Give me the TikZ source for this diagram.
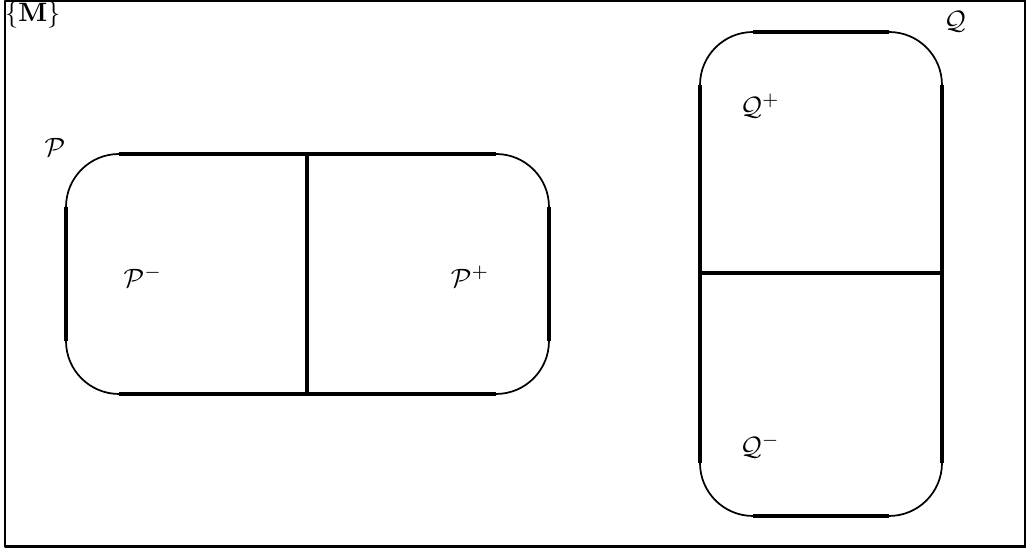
\documentclass[tikz,border=0pt]{standalone}
\usepackage{amsmath,amssymb}
\usepackage{tikz}
\usetikzlibrary{positioning,calc}
\tikzset{
    every picture/.style={line cap=butt,line join=round},
    frameline/.style={draw=black,line width=0.8pt},
    boxside/.style={draw=black,line width=1.2pt},
    boxarc/.style={draw=black,line width=0.65pt},
    setlabel/.style={inner sep=0pt,outer sep=0pt}
}
% straight sides thick, corners thin (corner radius 20pt)
\newcommand{\roundbox}[4]{%
  \draw[boxside] (#1,#2+53) -- (#1,#4-53);
  \draw[boxside] (#3,#2+53) -- (#3,#4-53);
  \draw[boxside] (#1+53,#2) -- (#3-53,#2);
  \draw[boxside] (#1+53,#4) -- (#3-53,#4);
  \draw[boxarc] (#1,#4-53) arc[start angle=180,end angle=90,radius=19.98pt];
  \draw[boxarc] (#3-53,#4) arc[start angle=90,end angle=0,radius=19.98pt];
  \draw[boxarc] (#3,#2+53) arc[start angle=0,end angle=-90,radius=19.98pt];
  \draw[boxarc] (#1+53,#2) arc[start angle=270,end angle=180,radius=19.98pt];
}

\begin{document}
\begin{tikzpicture}[x=0.377pt,y=0.377pt]
  \useasboundingbox (0,0) rectangle (1026,548);
  \draw[frameline] (5,1.5) rectangle (1025.5,547);
  \node[setlabel,anchor=north west] (mset) at (5,546) {$\{\mathbf{M}\}$};
  % the two sets
  \roundbox{66}{154}{549}{394}
  \draw[boxside] (307,154) -- (307,394);
  \roundbox{700}{32}{942}{516}
  \draw[boxside] (700,275) -- (942,275);
  % labels
  \node[setlabel] (pset) at (55,401) {$\mathcal{P}$};
  \node[setlabel] (pminus) at (143,271) {$\mathcal{P}^-$};
  \node[setlabel] (pplus) at (470,271) {$\mathcal{P}^+$};
  \node[setlabel] (qset) at (955,526) {$\mathcal{Q}$};
  \node[setlabel] (qplus) at (760,442) {$\mathcal{Q}^+$};
  \node[setlabel] (qminus) at (760,102) {$\mathcal{Q}^-$};
\end{tikzpicture}
\end{document}
